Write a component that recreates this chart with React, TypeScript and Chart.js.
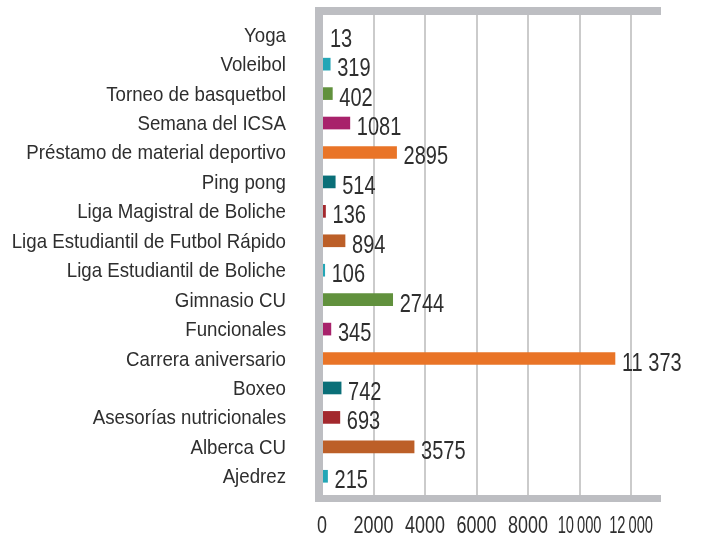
import React, { useEffect, useRef } from 'react';
import { Chart, registerables } from 'chart.js';

Chart.register(...registerables);

const categories = [
  'Yoga',
  'Voleibol',
  'Torneo de basquetbol',
  'Semana del ICSA',
  'Préstamo de material deportivo',
  'Ping pong',
  'Liga Magistral de Boliche',
  'Liga Estudiantil de Futbol Rápido',
  'Liga Estudiantil de Boliche',
  'Gimnasio CU',
  'Funcionales',
  'Carrera aniversario',
  'Boxeo',
  'Asesorías nutricionales',
  'Alberca CU',
  'Ajedrez',
];

const values = [13, 319, 402, 1081, 2895, 514, 136, 894, 106, 2744, 345, 11373, 742, 693, 3575, 215];

const barColors = [
  '#bc5f28', '#23a6b6', '#61913d', '#a8226b', '#e97427', '#0a6f78', '#a3282d', '#bc5f28',
  '#23a6b6', '#61913d', '#a8226b', '#e97427', '#0a6f78', '#a3282d', '#bc5f28', '#23a6b6',
];

const xTicks = [0, 2000, 4000, 6000, 8000, 10000, 12000];
const xTickLabels = ['0', '2000', '4000', '6000', '8000', '10\u2009000', '12\u2009000'];
const xMax = 13160;

const FONT = "'Liberation Sans', Arial, sans-serif";
const TEXT = '#2e2e2e';
const FRAME = '#bdbec2';
const GRID = '#cbcbcb';

function fmtValue(v: number): string {
  if (v >= 10000) {
    return `${Math.floor(v / 1000)} ${String(v % 1000).padStart(3, '0')}`;
  }
  return String(v);
}

function drawScaledText(
  ctx: CanvasRenderingContext2D,
  text: string,
  x: number,
  y: number,
  size: number,
  sx: number,
  align: CanvasTextAlign
) {
  ctx.save();
  ctx.translate(x, y);
  ctx.scale(sx, 1);
  ctx.font = `${size}px ${FONT}`;
  ctx.textAlign = align;
  ctx.textBaseline = 'alphabetic';
  ctx.fillStyle = TEXT;
  ctx.fillText(text, 0, 0);
  ctx.restore();
}

const framePlugin = {
  id: 'frameAndText',
  beforeDatasetsDraw(chart: any) {
    const { ctx, chartArea, scales } = chart;
    ctx.save();
    ctx.strokeStyle = GRID;
    ctx.lineWidth = 2;
    xTicks.forEach((v) => {
      if (v === 0) return;
      const x = Math.round(scales.x.getPixelForValue(v));
      ctx.beginPath();
      ctx.moveTo(x, chartArea.top - 5);
      ctx.lineTo(x, chartArea.bottom + 4);
      ctx.stroke();
    });
    ctx.restore();
  },
  afterDatasetsDraw(chart: any) {
    const { ctx, chartArea, scales } = chart;
    const { left, right, top, bottom } = chartArea;
    ctx.save();
    ctx.fillStyle = FRAME;
    // left border
    ctx.fillRect(left - 7, top - 13, 8, bottom + 11 - (top - 13));
    // top border
    ctx.fillRect(left - 7, top - 13, right - (left - 7), 8);
    // bottom border
    ctx.fillRect(left - 7, bottom + 4, right - (left - 7), 7);
    ctx.restore();

    // category labels
    categories.forEach((label, i) => {
      const y = scales.y.getPixelForTick(i);
      drawScaledText(ctx, label, 286, y + 7, 21, 0.89, 'right');
    });

    // x tick labels
    xTicks.forEach((v, i) => {
      const x = scales.x.getPixelForValue(v);
      const sx = v >= 10000 ? 0.64 : 0.78;
      drawScaledText(ctx, xTickLabels[i], x, 533, 23, sx, 'center');
    });

    // value labels
    const meta = chart.getDatasetMeta(0);
    meta.data.forEach((bar: any, i: number) => {
      const x = Math.max(bar.x, left + 1) + 7;
      drawScaledText(ctx, fmtValue(values[i]), x, bar.y + 12, 25, 0.8, 'left');
    });
  },
};

export default function App() {
  const canvasRef = useRef<HTMLCanvasElement | null>(null);

  useEffect(() => {
    const canvas = canvasRef.current;
    if (!canvas) return;
    const chart = new Chart(canvas, {
      type: 'bar',
      data: {
        labels: categories,
        datasets: [
          {
            data: values,
            backgroundColor: barColors,
            borderWidth: 0,
            barThickness: 12,
          },
        ],
      },
      options: {
        indexAxis: 'y',
        animation: false,
        responsive: false,
        devicePixelRatio: 1,
        layout: { padding: { left: 0, right: 49, top: 20, bottom: 0 } },
        plugins: {
          legend: { display: false },
          tooltip: { enabled: false },
          title: { display: false },
        },
        scales: {
          x: {
            type: 'linear',
            min: 0,
            max: xMax,
            grid: { display: false },
            border: { display: false },
            ticks: { display: false },
            afterFit: (scale: any) => {
              scale.height = 44;
              scale.paddingLeft = 0;
              scale.paddingRight = 0;
              scale.paddingTop = 0;
              scale.paddingBottom = 0;
            },
          },
          y: {
            type: 'category',
            grid: { display: false },
            border: { display: false },
            ticks: { display: false, autoSkip: false },
            afterFit: (scale: any) => {
              scale.width = 322;
              scale.paddingLeft = 0;
              scale.paddingRight = 0;
              scale.paddingTop = 0;
              scale.paddingBottom = 0;
            },
          },
        },
      },
      plugins: [framePlugin],
    });
    return () => chart.destroy();
  }, []);

  return (
    <div style={{ position: 'absolute', left: 0, top: 0, width: 710, height: 535, background: '#ffffff' }}>
      <canvas ref={canvasRef} width={710} height={535} style={{ width: 710, height: 535, display: 'block' }} />
    </div>
  );
}
